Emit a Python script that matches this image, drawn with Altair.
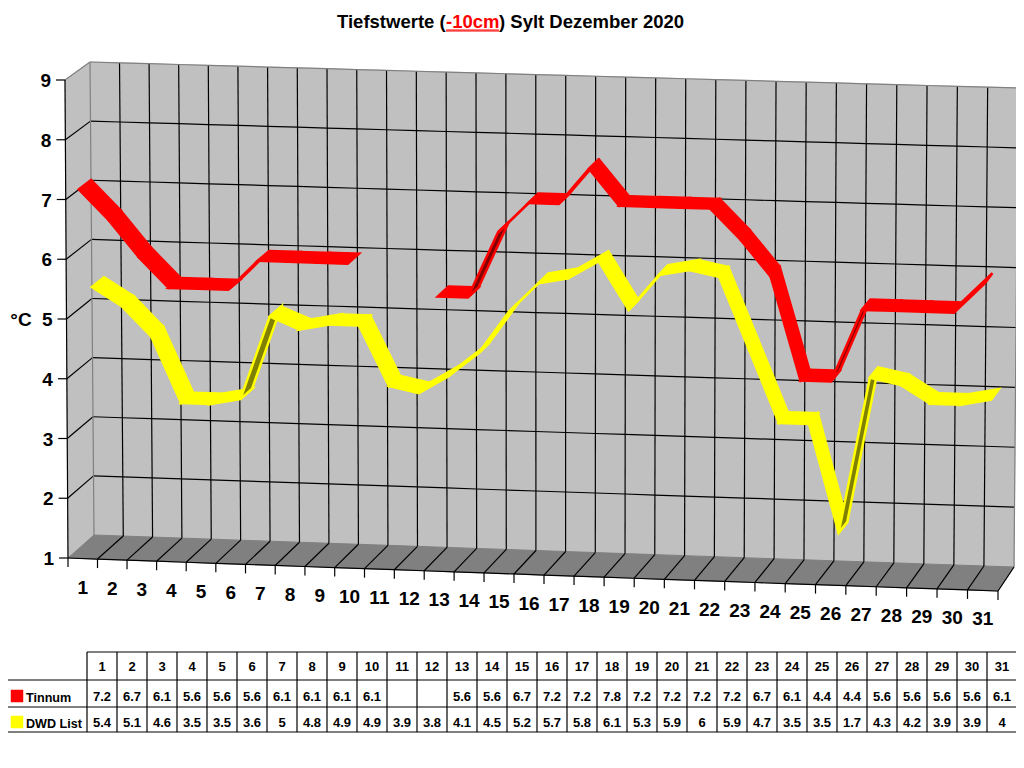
import altair as alt
import pandas as pd

days = list(range(1, 32))
tinnum = [7.2, 6.7, 6.1, 5.6, 5.6, 5.6, 6.1, 6.1, 6.1, 6.1, None, None, 5.6, 5.6, 6.7, 7.2,
          7.2, 7.8, 7.2, 7.2, 7.2, 7.2, 6.7, 6.1, 4.4, 4.4, 5.6, 5.6, 5.6, 5.6, 6.1]
dwd = [5.4, 5.1, 4.6, 3.5, 3.5, 3.6, 5, 4.8, 4.9, 4.9, 3.9, 3.8, 4.1, 4.5, 5.2, 5.7,
       5.8, 6.1, 5.3, 5.9, 6, 5.9, 4.7, 3.5, 3.5, 1.7, 4.3, 4.2, 3.9, 3.9, 4]
y_ticks = list(range(1, 10))
title_parts = ["Tiefstwerte (", "-10cm", ") Sylt Dezember 2020"]

FL1, FL9 = (68, 558), (65, 80)
BL1, BL9 = (94, 535), (90, 62)
FR1, FR9 = (998, 591), (1003, 107)
BR1, BR9 = (1014, 567), (1018, 88)


def P(t, v, d=0.0):
    a, b = t / 31, (v - 1) / 8
    out = []
    for i in (0, 1):
        front = (1 - a) * ((1 - b) * FL1[i] + b * FL9[i]) + a * ((1 - b) * FR1[i] + b * FR9[i])
        back = (1 - a) * ((1 - b) * BL1[i] + b * BL9[i]) + a * ((1 - b) * BR1[i] + b * BR9[i])
        out.append((1 - d) * front + d * back)
    out[0] -= (16 - 3 * d) * a * (1 - a)
    return tuple(out)


polys, rules, texts, texts_left, texts_big, texts_big_r = [], [], [], [], [], []


def poly(pid, pts, fill, stroke):
    for k, (x, y) in enumerate(pts):
        polys.append(dict(id=pid, k=k, x=x, y=y, fill=fill, stroke=stroke))


def rule(a, b, color="#000000"):
    rules.append(dict(x=a[0], y=a[1], x2=b[0], y2=b[1], color=color))


def edge(fn, color="#000000", n=31):
    pts = [fn(i) for i in range(n + 1)]
    for a, b in zip(pts, pts[1:]):
        rule(a, b, color)


# walls and floor
poly("a_left", [P(0, 1), P(0, 9), P(0, 9, 1), P(0, 1, 1)], "#C0C0C0", "#C0C0C0")
poly("b_back", [P(0, 1, 1), P(0, 9, 1)] + [P(t, 9, 1) for t in range(1, 32)] + [P(t, 1, 1) for t in range(31, 0, -1)], "#C0C0C0", "#C0C0C0")
poly("c_floor", [P(t, 1) for t in range(0, 32)] + [P(t, 1, 1) for t in range(31, -1, -1)], "#808080", "#808080")

for v in y_ticks[1:-1]:
    rule(P(0, v), P(0, v, 1))
    edge(lambda t: P(t, v, 1))
for t in range(1, 31):
    rule(P(t, 1, 1), P(t, 9, 1))
    rule(P(t, 1), P(t, 1, 1))
rule(P(0, 9), P(0, 9, 1), "#808080")
edge(lambda t: P(t, 9, 1), "#808080")
rule(P(0, 1, 1), P(0, 9, 1), "#808080")
rule(P(31, 1, 1), P(31, 9, 1), "#808080")
rule(P(0, 1), P(0, 9))
edge(lambda t: P(t, 1))
rule(P(31, 1), P(31, 1, 1))
for v in y_ticks:
    px, py = P(0, v)
    rule((px - 9, py), (px, py))
    texts_big_r.append(dict(x=px - 14, y=py + 1, text=str(v)))
for t in range(0, 32):
    px, py = P(t, 1)
    rule((px, py), (px, py + 9))
for d in days:
    px, py = P(d - 0.5, 1)
    texts_big.append(dict(x=px, y=py + 29, text=str(d)))
texts_big.append(dict(x=21, y=320, text="°C"))


def ribbon(name, vals, d0, d1, col, dark):
    for i in range(len(vals) - 1):
        if vals[i] is None or vals[i + 1] is None:
            continue
        a0 = P(i + 0.5, vals[i], d0)
        b0 = P(i + 1.5, vals[i + 1], d0)
        b1 = P(i + 1.5, vals[i + 1], d1)
        a1 = P(i + 0.5, vals[i], d1)
        cross = (b0[0] - a0[0]) * (a1[1] - a0[1]) - (b0[1] - a0[1]) * (a1[0] - a0[0])
        poly(f"{name}{i:02d}", [a0, b0, b1, a1], dark if cross > 0 else col, col)


ribbon("y", dwd, 0.42, 0.90, "#FFFF00", "#808000")
ribbon("z", tinnum, -0.07, 0.42, "#FF0000", "#800000")

# data table
X0, CW = 87, 30
R = [652, 680, 707, 732]
rule((X0, R[0]), (X0 + 31 * CW, R[0]))
rule((7, R[1]), (X0 + 31 * CW, R[1]))
rule((7, R[2]), (X0 + 31 * CW, R[2]))
rule((7, R[3]), (X0 + 31 * CW, R[3]))
rule((7, R[1]), (7, R[3]))
for i in range(32):
    rule((X0 + i * CW, R[0]), (X0 + i * CW, R[3]))
for i, d in enumerate(days):
    cx = X0 + i * CW + 15
    texts.append(dict(x=cx, y=666.5, text=str(d)))
    if tinnum[i] is not None:
        texts.append(dict(x=cx, y=696.5, text=str(tinnum[i])))
    texts.append(dict(x=cx, y=722.5, text=str(dwd[i])))
poly("s_red", [(11, 690), (23, 690), (23, 702), (11, 702)], "#FF0000", "#FF0000")
poly("s_yel", [(11, 716), (23, 716), (23, 728), (11, 728)], "#FFFF00", "#FFFF00")
texts_left.append(dict(x=26, y=697.5, text="Tinnum"))
texts_left.append(dict(x=26, y=723.5, text="DWD List"))

# title
title_left = [dict(x=337, y=21.5, text=title_parts[0], color="#000000"),
              dict(x=446, y=21.5, text=title_parts[1], color="#FF0000"),
              dict(x=499, y=21.5, text=title_parts[2], color="#000000")]
rule((446, 30), (499, 30), "#FF0000")
rule((446, 31), (499, 31), "#FF0000")

sx = alt.Scale(domain=[8, 1016], range=[0, 1008])
sy = alt.Scale(domain=[8, 760], range=[0, 752])
X = lambda f="x": alt.X(f"{f}:Q", scale=sx, axis=None)
Y = lambda f="y": alt.Y(f"{f}:Q", scale=sy, axis=None)
FONT = "Liberation Sans"

poly_back = alt.Chart(pd.DataFrame([p for p in polys if p["id"][0] in "abc"])).mark_line(
    interpolate="linear-closed", strokeWidth=1).encode(
    x=X(), y=Y(), detail="id:N", order="k:Q",
    fill=alt.Fill("fill:N", scale=None), stroke=alt.Stroke("stroke:N", scale=None))
poly_front = alt.Chart(pd.DataFrame([p for p in polys if p["id"][0] in "yz"])).mark_line(
    interpolate="linear-closed", strokeWidth=2.5).encode(
    x=X(), y=Y(), detail="id:N", order="k:Q",
    fill=alt.Fill("fill:N", scale=None), stroke=alt.Stroke("stroke:N", scale=None))
poly_swatch = alt.Chart(pd.DataFrame([p for p in polys if p["id"][0] == "s"])).mark_line(
    interpolate="linear-closed", strokeWidth=0.5).encode(
    x=X(), y=Y(), detail="id:N", order="k:Q",
    fill=alt.Fill("fill:N", scale=None), stroke=alt.Stroke("stroke:N", scale=None))
rule_layer = alt.Chart(pd.DataFrame(rules)).mark_rule(strokeWidth=1.2).encode(
    x=X(), y=Y(), x2="x2:Q", y2="y2:Q", color=alt.Color("color:N", scale=None))
t_center = alt.Chart(pd.DataFrame(texts)).mark_text(font=FONT, fontWeight="bold", fontSize=13, align="center", baseline="middle").encode(
    x=X(), y=Y(), text="text:N")
t_left = alt.Chart(pd.DataFrame(texts_left)).mark_text(font=FONT, fontWeight="bold", fontSize=12.6, align="left", baseline="middle").encode(
    x=X(), y=Y(), text="text:N")
t_big = alt.Chart(pd.DataFrame(texts_big)).mark_text(font=FONT, fontWeight="bold", fontSize=19, align="center", baseline="middle").encode(
    x=X(), y=Y(), text="text:N")
t_big_r = alt.Chart(pd.DataFrame(texts_big_r)).mark_text(font=FONT, fontWeight="bold", fontSize=19, align="right", baseline="middle").encode(
    x=X(), y=Y(), text="text:N")
t_title = alt.Chart(pd.DataFrame(title_left)).mark_text(font=FONT, fontWeight="bold", fontSize=18.5, align="left", baseline="middle").encode(
    x=X(), y=Y(), text="text:N", color=alt.Color("color:N", scale=None))

chart = alt.layer(poly_back, rule_layer, poly_front, poly_swatch, t_center, t_left, t_big, t_big_r, t_title).properties(
    width=1008, height=752, padding=0,
    autosize=alt.AutoSizeParams(type="none", contains="padding"),
    background="white",
).configure_view(strokeWidth=0)

chart.save("out.html", embed_options={"renderer": "svg", "actions": False})
